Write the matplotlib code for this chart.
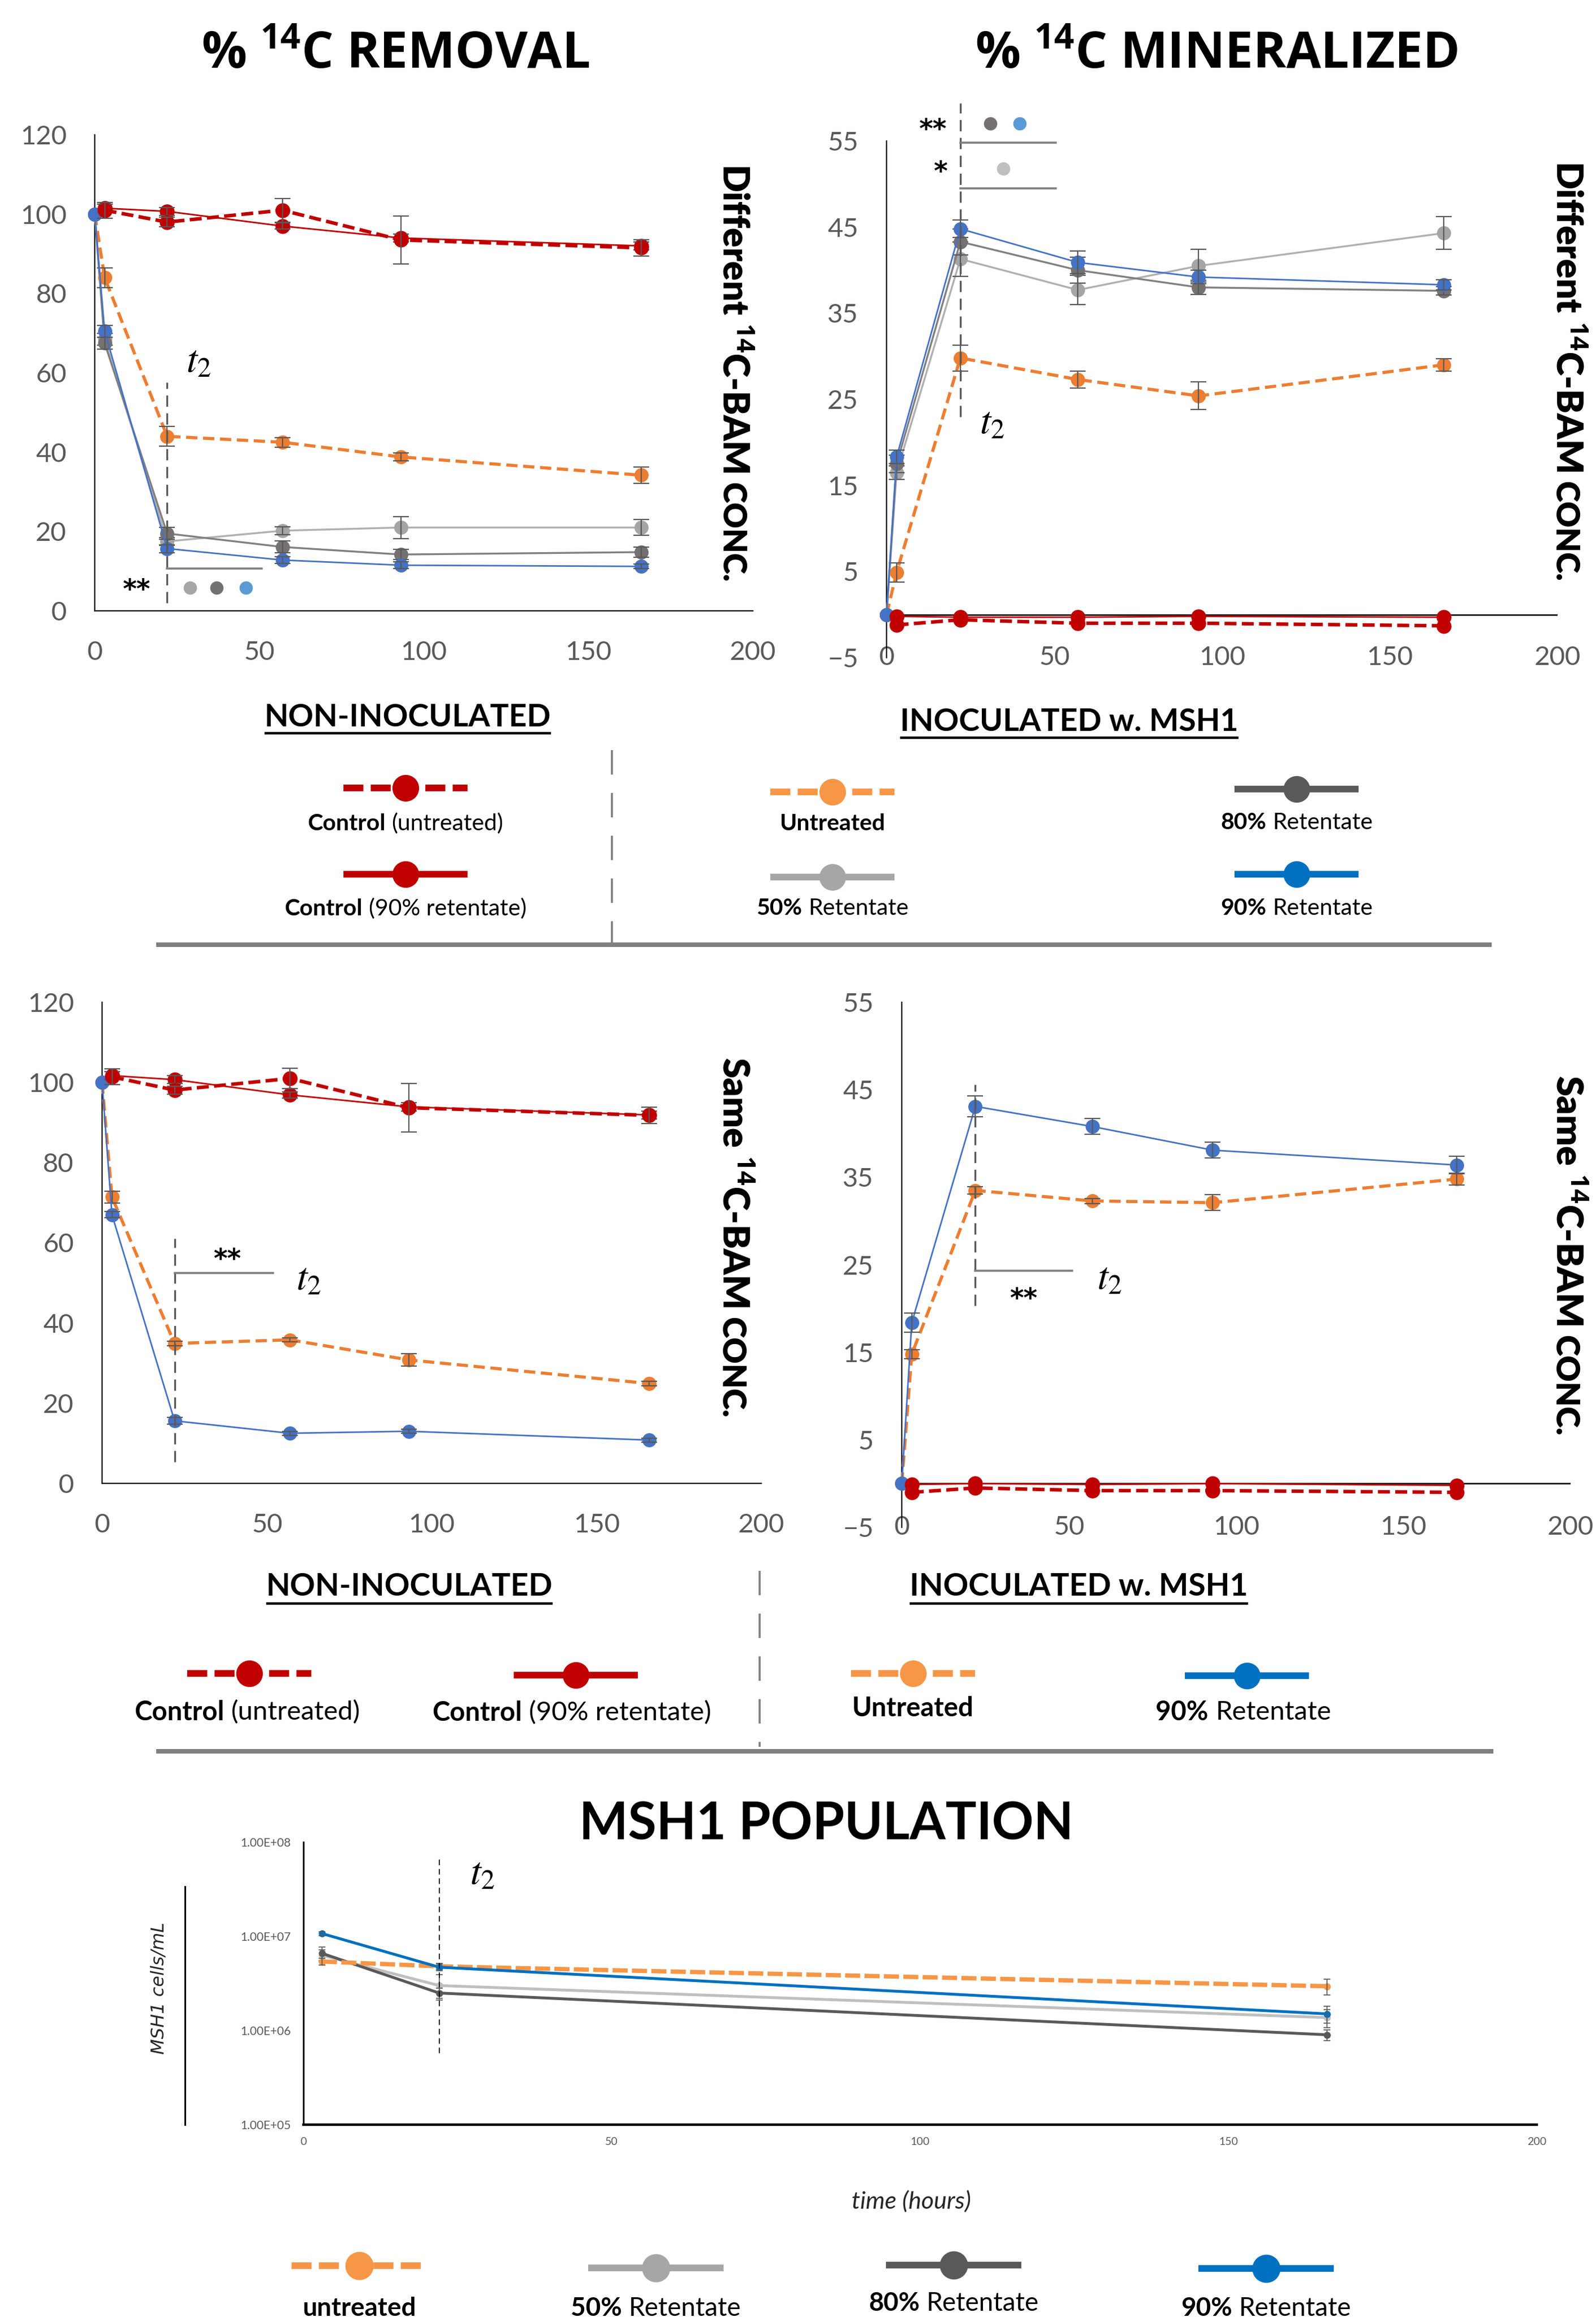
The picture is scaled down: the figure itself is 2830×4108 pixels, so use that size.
import numpy as np
import matplotlib
matplotlib.use('Agg')
import matplotlib.pyplot as plt
from matplotlib.ticker import FixedLocator, FuncFormatter

W, H, DPI = 2830, 4108, 100

# ---------------------------------------------------------------------------
# data
t_ctrl = [3, 22, 57, 93, 166]          # non-inoculated controls
t_inoc = [0, 3, 22, 57, 93, 166]       # inoculated series
t_pop = [3, 22, 166]

# % 14C removal, different 14C-BAM conc.
rem_diff_ctrl_untr = [101.0, 98.0, 101.0, 93.5, 91.5]
rem_diff_ctrl_untr_err = [2.0, 1.2, 3.0, 6.0, 2.0]
rem_diff_ctrl_90 = [101.5, 100.7, 97.0, 94.0, 92.0]
rem_diff_ctrl_90_err = [1.0, 1.0, 0.8, 1.0, 1.0]
rem_diff_untr = [100.0, 84.0, 44.0, 42.5, 38.8, 34.2]
rem_diff_untr_err = [0, 2.5, 2.5, 1.2, 1.0, 2.0]
rem_diff_50 = [100.0, 68.5, 17.5, 20.2, 21.0, 21.0]
rem_diff_50_err = [0, 1.5, 1.0, 1.0, 2.8, 2.0]
rem_diff_80 = [100.0, 67.5, 19.5, 16.1, 14.2, 14.8]
rem_diff_80_err = [0, 1.5, 1.5, 1.5, 1.3, 1.3]
rem_diff_90 = [100.0, 70.5, 15.7, 12.8, 11.5, 11.2]
rem_diff_90_err = [0, 1.5, 1.0, 0.8, 0.8, 0.6]

# % 14C mineralized, different 14C-BAM conc.
min_diff_ctrl_untr = [-1.2, -0.6, -1.0, -1.0, -1.3]
min_diff_ctrl_90 = [-0.2, -0.3, -0.3, -0.2, -0.3]
min_diff_untr = [0.0, 4.9, 29.8, 27.3, 25.4, 29.0]
min_diff_untr_err = [0, 1.1, 1.5, 1.0, 1.6, 0.7]
min_diff_50 = [0.0, 16.5, 41.3, 37.7, 40.5, 44.3]
min_diff_50_err = [0, 0.8, 2.0, 1.7, 1.9, 1.9]
min_diff_80 = [0.0, 17.5, 43.3, 40.0, 38.0, 37.6]
min_diff_80_err = [0, 1.0, 1.5, 1.5, 0.8, 0.5]
min_diff_90 = [0.0, 18.3, 44.8, 40.9, 39.2, 38.3]
min_diff_90_err = [0, 0.8, 1.0, 1.3, 0.8, 0.6]

# % 14C removal, same 14C-BAM conc.
rem_same_ctrl_untr = [101.4, 98.1, 101.0, 93.7, 91.8]
rem_same_ctrl_untr_err = [2.0, 1.0, 2.5, 6.0, 2.0]
rem_same_ctrl_90 = [101.7, 100.7, 96.9, 93.9, 91.9]
rem_same_ctrl_90_err = [1.0, 1.0, 0.8, 1.0, 1.0]
rem_same_untr = [100.0, 71.4, 34.9, 35.8, 30.8, 24.9]
rem_same_untr_err = [0, 1.5, 0.6, 0.5, 1.5, 0.6]
rem_same_90 = [100.0, 67.0, 15.6, 12.5, 13.0, 10.8]
rem_same_90_err = [0, 0.8, 0.8, 0.5, 0.5, 0.5]

# % 14C mineralized, same 14C-BAM conc.
min_same_ctrl_untr = [-1.0, -0.5, -0.8, -0.8, -1.0]
min_same_ctrl_90 = [-0.1, 0.0, -0.1, 0.0, -0.2]
min_same_untr = [0.0, 14.8, 33.5, 32.3, 32.1, 34.8]
min_same_untr_err = [0, 0.5, 0.4, 0.3, 0.9, 0.7]
min_same_90 = [0.0, 18.4, 43.1, 40.8, 38.1, 36.4]
min_same_90_err = [0, 1.1, 1.2, 0.9, 0.9, 1.0]

# MSH1 population (cells/mL)
pop_untr = [5.4e6, 4.8e6, 2.95e6]
pop_untr_err = [0.45e6, 0.35e6, 0.55e6]
pop_50 = [6.3e6, 3.0e6, 1.37e6]
pop_50_err = [0.9e6, 0.9e6, 0.3e6]
pop_80 = [6.6e6, 2.5e6, 0.9e6]
pop_80_err = [1.1e6, 0.3e6, 0.12e6]
pop_90 = [1.07e7, 4.7e6, 1.5e6]
pop_90_err = [0.5e6, 0.4e6, 0.3e6]

T2 = 22

# ---------------------------------------------------------------------------
RED = '#C00000'
ERR = '#595959'
STY = {
    'ctrl_untr': dict(c=RED, mc=RED, lw=4.5, ls=(0, (3.4, 1.5)), ms=18, z=6.5),
    'ctrl_90':   dict(c=RED, mc=RED, lw=2.0, ls='-', ms=18, z=6),
    'untr':      dict(c='#ED7D31', mc='#ED7D31', lw=4.0, ls=(0, (3.6, 1.8)), ms=17, z=4),
    'r50':       dict(c='#B0B0B0', mc='#A5A5A5', lw=2.4, ls='-', ms=17, z=3),
    'r80':       dict(c='#808080', mc='#767171', lw=2.4, ls='-', ms=17, z=3.2),
    'r90':       dict(c='#4472C4', mc='#4472C4', lw=2.0, ls='-', ms=17, z=5),
}
LEG = {
    'ctrl_untr': dict(c=RED, ls=(0, (3.0, 1.1))),
    'ctrl_90':   dict(c=RED, ls='-'),
    'untr':      dict(c='#F79646', ls=(0, (3.0, 1.1))),
    'r50':       dict(c='#A6A6A6', ls='-'),
    'r80':       dict(c='#595959', ls='-'),
    'r90':       dict(c='#0070C0', ls='-'),
}
POP = {
    'untr': dict(c='#F79646', lw=5.5, ls=(0, (3.5, 1.0)), z=3),
    'r50':  dict(c='#BFBFBF', lw=3.6, ls='-', z=2),
    'r80':  dict(c='#595959', lw=3.6, ls='-', z=2.5),
    'r90':  dict(c='#0070C0', lw=3.6, ls='-', z=4),
}

plt.rcParams['font.family'] = ['Lato', 'DejaVu Sans']
plt.rcParams['mathtext.fontset'] = 'custom'
plt.rcParams['mathtext.rm'] = 'Open Sans'
plt.rcParams['mathtext.bf'] = 'Open Sans:bold'

fig = plt.figure(figsize=(W / DPI, H / DPI), dpi=DPI)
renderer = fig.canvas.get_renderer()

# full-figure overlay in pixel units (top-left origin) for titles & legends
ov = fig.add_axes([0, 0, 1, 1])
ov.set_xlim(0, W)
ov.set_ylim(H, 0)
ov.axis('off')


def px_axes(left, top, right, bottom):
    ax = fig.add_axes([left / W, 1 - bottom / H, (right - left) / W, (bottom - top) / H])
    ax.set_facecolor('none')
    return ax


def draw_series(ax, key, x, y, err=None):
    s = STY[key]
    ax.plot(x, y, color=s['c'], lw=s['lw'], ls=s['ls'], marker='o', ms=s['ms'],
            mfc=s['mc'], mec=s['mc'], zorder=s['z'], clip_on=False,
            dash_capstyle='butt')
    if err is not None:
        pts = [(a, b, e) for a, b, e in zip(x, y, err) if e > 0]
        ax.errorbar([p[0] for p in pts], [p[1] for p in pts], yerr=[p[2] for p in pts],
                    fmt='none', ecolor=ERR, elinewidth=1.6, capsize=10, capthick=1.6,
                    zorder=s['z'] + 0.1, clip_on=False)


def style_panel(ax, ylim, yticks, zero_line):
    ax.set_xlim(0, 200)
    ax.set_ylim(*ylim)
    ax.set_xticks([0, 50, 100, 150, 200])
    ax.set_yticks(yticks)
    for sp in ('top', 'right'):
        ax.spines[sp].set_visible(False)
    ax.spines['left'].set_linewidth(1.6)
    ax.spines['left'].set_color('black')
    ax.tick_params(axis='y', length=0, labelsize=34, labelcolor='#595959', pad=36)
    if zero_line:
        ax.spines['bottom'].set_visible(False)
        ax.axhline(0, color='black', lw=1.8, zorder=2)
        ax.tick_params(axis='x', length=0, labelsize=34, labelcolor='#595959', pad=0)
        for lbl in ax.get_xticklabels():
            lbl.set_va('center')
    else:
        ax.spines['bottom'].set_linewidth(1.6)
        ax.spines['bottom'].set_color('black')
        ax.tick_params(axis='x', length=0, labelsize=34, labelcolor='#595959', pad=38)


def t2_mark(ax, y0, y1, tx, ty, size=50):
    ax.plot([T2, T2], [y0, y1], color='#595959', lw=2.4, ls=(0, (6, 3.5)),
            zorder=7, clip_on=False)
    ax.text(tx, ty, r'$t_2$', math_fontfamily='stix', fontsize=size,
            ha='center', va='center', zorder=8)


def bracket(ax, y, x1):
    ax.plot([T2, x1], [y, y], color='#7F7F7F', lw=2.6, zorder=7, clip_on=False)


def stars(ax, x, y, s):
    ax.text(x, y, s, fontfamily='DejaVu Sans', fontsize=34, fontweight='bold',
            ha='center', va='center', zorder=8)


def dot(ax, x, y, c):
    ax.plot(x, y, 'o', ms=16, mfc=c, mec=c, zorder=8, clip_on=False)


# ---------------------------------------------------------------------------
# panel 1: removal, different conc
ax1 = px_axes(168, 239, 1335, 1083)
style_panel(ax1, (0, 120), [0, 20, 40, 60, 80, 100, 120], False)
draw_series(ax1, 'r50', t_inoc, rem_diff_50, rem_diff_50_err)
draw_series(ax1, 'r80', t_inoc, rem_diff_80, rem_diff_80_err)
draw_series(ax1, 'untr', t_inoc, rem_diff_untr, rem_diff_untr_err)
draw_series(ax1, 'r90', t_inoc, rem_diff_90, rem_diff_90_err)
draw_series(ax1, 'ctrl_90', t_ctrl, rem_diff_ctrl_90, rem_diff_ctrl_90_err)
draw_series(ax1, 'ctrl_untr', t_ctrl, rem_diff_ctrl_untr, rem_diff_ctrl_untr_err)
t2_mark(ax1, 2, 57.6, 31.6, 63)
bracket(ax1, 10.6, 50.7)
stars(ax1, 12.7, 5.0, '**')
dot(ax1, 29, 5.8, '#A6A6A6')
dot(ax1, 37, 5.8, '#767171')
dot(ax1, 46, 5.8, '#5B9BD5')

# panel 2: mineralized, different conc
ax2 = px_axes(1572, 250, 2762, 1166)
style_panel(ax2, (-5, 55), [-5, 5, 15, 25, 35, 45, 55], True)
draw_series(ax2, 'r50', t_inoc, min_diff_50, min_diff_50_err)
draw_series(ax2, 'r80', t_inoc, min_diff_80, min_diff_80_err)
draw_series(ax2, 'untr', t_inoc, min_diff_untr, min_diff_untr_err)
draw_series(ax2, 'r90', t_inoc, min_diff_90, min_diff_90_err)
draw_series(ax2, 'ctrl_90', t_ctrl, min_diff_ctrl_90)
draw_series(ax2, 'ctrl_untr', t_ctrl, min_diff_ctrl_untr)
t2_mark(ax2, 23, 59.4, 31.5, 22.3)
bracket(ax2, 54.8, 50.5)
bracket(ax2, 49.5, 50.5)
stars(ax2, 13.8, 56.2, '**')
stars(ax2, 16.0, 51.3, '*')
dot(ax2, 31, 57, '#767171')
dot(ax2, 39.6, 57, '#5B9BD5')
dot(ax2, 34.8, 51.8, '#BFBFBF')

# panel 3: removal, same conc
ax3 = px_axes(181, 1777, 1350, 2630)
style_panel(ax3, (0, 120), [0, 20, 40, 60, 80, 100, 120], False)
draw_series(ax3, 'untr', t_inoc, rem_same_untr, rem_same_untr_err)
draw_series(ax3, 'r90', t_inoc, rem_same_90, rem_same_90_err)
draw_series(ax3, 'ctrl_90', t_ctrl, rem_same_ctrl_90, rem_same_ctrl_90_err)
draw_series(ax3, 'ctrl_untr', t_ctrl, rem_same_ctrl_untr, rem_same_ctrl_untr_err)
t2_mark(ax3, 5.4, 61, 62.6, 51)
bracket(ax3, 52.5, 51.8)
stars(ax3, 38, 55.7, '**')

# panel 4: mineralized, same conc
ax4 = px_axes(1599, 1777, 2785, 2708)
style_panel(ax4, (-5, 55), [-5, 5, 15, 25, 35, 45, 55], True)
draw_series(ax4, 'untr', t_inoc, min_same_untr, min_same_untr_err)
draw_series(ax4, 'r90', t_inoc, min_same_90, min_same_90_err)
draw_series(ax4, 'ctrl_90', t_ctrl, min_same_ctrl_90)
draw_series(ax4, 'ctrl_untr', t_ctrl, min_same_ctrl_untr)
t2_mark(ax4, 20.3, 45.6, 62, 23.5)
bracket(ax4, 24.3, 51)
stars(ax4, 36.4, 21.0, '**')

# panel 5: MSH1 population (log scale)
ax5 = px_axes(538, 3266, 2725, 3767)
ax5.set_yscale('log')
ax5.set_xlim(0, 200)
ax5.set_ylim(1e5, 1e8)
ax5.yaxis.set_major_locator(FixedLocator([1e5, 1e6, 1e7, 1e8]))
ax5.yaxis.set_minor_locator(FixedLocator([]))
ax5.yaxis.set_major_formatter(FuncFormatter(lambda v, _: f'{v:.2E}'))
ax5.set_xticks([0, 50, 100, 150, 200])
for sp in ('top', 'right'):
    ax5.spines[sp].set_visible(False)
ax5.spines['left'].set_linewidth(2.0)
ax5.spines['bottom'].set_linewidth(3.2)
ax5.tick_params(axis='y', length=0, labelsize=15, labelcolor='#595959', pad=16)
ax5.tick_params(axis='x', length=0, labelsize=14, labelcolor='#595959', pad=16)
for key, ys, es in [('r50', pop_50, pop_50_err), ('r80', pop_80, pop_80_err),
                    ('untr', pop_untr, pop_untr_err), ('r90', pop_90, pop_90_err)]:
    s = POP[key]
    ax5.plot(t_pop, ys, color=s['c'], lw=s['lw'], ls=s['ls'], marker='o', ms=8,
             mfc=s['c'], mec=s['c'], zorder=s['z'], dash_capstyle='butt')
    ax5.errorbar(t_pop, ys, yerr=es, fmt='none', ecolor=ERR, elinewidth=1.2,
                 capsize=4, capthick=1.2, zorder=s['z'] + 0.1)
ax5.plot([T2, T2], [6.5e7, 5.4e5], color='black', lw=1.2, ls=(0, (6, 4)), zorder=5)
ax5.text(29, 4.7e7, r'$t_2$', math_fontfamily='stix', fontsize=50,
         ha='center', va='center')


# ---------------------------------------------------------------------------
def text_wh(s, size, weight, family=None):
    kw = {} if family is None else {'fontfamily': family}
    t = ov.text(0, 0, s, fontsize=size, fontweight=weight, **kw)
    bb = t.get_window_extent(renderer)
    t.remove()
    return bb.width, bb.height


def side_label(x, yc, word, length):
    # rotated label, "CONC." set smaller like small caps; fitted to length
    s1 = word + r' $^{\mathbf{14}}$C-BAM'
    s2 = 'CONC.'
    b1, b2 = 50.0, 44.0
    w1, h1 = text_wh(s1, b1, 'heavy', 'Lato')
    w2, _ = text_wh(s2, b2, 'heavy', 'Lato')
    gap = 0.25 * b1 * DPI / 72
    k = length / (w1 + gap + w2)
    y = yc - length / 2
    xl = x - k * h1 / 2
    ov.text(xl, y, s1, fontfamily='Lato', fontweight='heavy', fontsize=b1 * k,
            rotation=-90, ha='left', va='top')
    ov.text(xl, y + k * (w1 + gap), s2, fontfamily='Lato', fontweight='heavy',
            fontsize=b2 * k, rotation=-90, ha='left', va='top')


# titles and side labels
ov.text(701, 98, r'% $^{\mathbf{14}}$C REMOVAL', fontfamily='Open Sans',
        fontweight='bold', fontsize=64, ha='center', va='center')
ov.text(2157, 98, r'% $^{\mathbf{14}}$C MINERALIZED', fontfamily='Open Sans',
        fontweight='bold', fontsize=64, ha='center', va='center')
side_label(1301, 661, 'Different', 742)
side_label(2779, 658, 'Different', 746)
side_label(1301, 2194, 'Same', 639)
side_label(2779, 2226, 'Same', 639)
ov.text(1465, 3235, 'MSH1 POPULATION', fontweight='bold', fontsize=66,
        ha='center', va='center')
ov.text(282, 3525, 'MSH1 cells/mL', fontfamily='DejaVu Sans', style='italic',
        fontsize=23, rotation=90, ha='center', va='center', color='#262626')
ov.plot([328, 328], [3345, 3767], color='black', lw=2.2)
ov.text(1616, 3903, 'time (hours)', style='italic', fontsize=31,
        ha='center', va='center', color='#262626')


def rich(xc, y, parts, size):
    gap = 0.26 * size * DPI / 72
    ws = [text_wh(s, size, wt)[0] for s, wt in parts]
    x = xc - (sum(ws) + gap * (len(parts) - 1)) / 2
    for (s, wt), w in zip(parts, ws):
        ov.text(x, y, s, fontsize=size, fontweight=wt, ha='left',
                va='center_baseline')
        x += w + gap


def header(xc, y, s, size=40, uy=28):
    ov.text(xc, y, s, fontsize=size, fontweight='bold', ha='center', va='center')
    w = text_wh(s, size, 'bold')[0]
    ov.plot([xc - w / 2, xc + w / 2], [y + uy, y + uy], color='black', lw=3.2,
            solid_capstyle='butt')


def leg_item(key, x, y, half=110, lw=8.5, ms=33):
    s = LEG[key]
    ov.plot([x - half, x + half], [y, y], color=s['c'], lw=lw, ls=s['ls'],
            dash_capstyle='butt', solid_capstyle='butt')
    ov.plot(x, y, 'o', ms=ms, mfc=s['c'], mec=s['c'])


B, N = 'bold', 'normal'

# legend block 1
header(723, 1272, 'NON-INOCULATED')
header(1896, 1280, 'INOCULATED w. MSH1')
ov.plot([1085, 1085], [1330, 1672], color='#7F7F7F', lw=2.6, ls=(0, (12, 9)))
ov.plot([277, 2645], [1675, 1675], color='#7F7F7F', lw=5.8, solid_capstyle='butt')
for key, x, y, ty, parts in [
        ('ctrl_untr', 719, 1397, 1457, [('Control', B), ('(untreated)', N)]),
        ('ctrl_90', 719, 1550, 1608, [('Control', B), ('(90% retentate)', N)]),
        ('untr', 1476, 1404, 1457, [('Untreated', B)]),
        ('r50', 1476, 1555, 1607, [('50%', B), ('Retentate', N)]),
        ('r80', 2299, 1399, 1455, [('80%', B), ('Retentate', N)]),
        ('r90', 2299, 1550, 1607, [('90%', B), ('Retentate', N)])]:
    leg_item(key, x, y)
    rich(x, ty, parts, 29.5)

# legend block 2
header(726, 2813, 'NON-INOCULATED', uy=30)
header(1913, 2813, 'INOCULATED w. MSH1', uy=30)
ov.plot([1347, 1347], [2785, 3097], color='#7F7F7F', lw=2.6, ls=(0, (12, 9)))
ov.plot([277, 2648], [3105, 3105], color='#7F7F7F', lw=5.8, solid_capstyle='butt')
for key, x, y, tx, ty, parts in [
        ('ctrl_untr', 442, 2967, 439, 3032, [('Control', B), ('(untreated)', N)]),
        ('ctrl_90', 1021, 2970, 1014, 3033, [('Control', B), ('(90% retentate)', N)]),
        ('untr', 1619, 2967, 1619, 3025, [('Untreated', B)]),
        ('r90', 2211, 2971, 2205, 3032, [('90%', B), ('Retentate', N)])]:
    leg_item(key, x, y)
    rich(tx, ty, parts, 34)

# bottom legend (population)
for key, x, y, ty, parts in [
        ('untr', 637, 4017, 4089, [('untreated', B)]),
        ('r50', 1163, 4021, 4089, [('50%', B), ('Retentate', N)]),
        ('r80', 1691, 4016, 4080, [('80%', B), ('Retentate', N)]),
        ('r90', 2245, 4022, 4089, [('90%', B), ('Retentate', N)])]:
    leg_item(key, x, y, half=120, ms=35)
    rich(x, ty, parts, 33)

fig.savefig('out.png', dpi=DPI)
